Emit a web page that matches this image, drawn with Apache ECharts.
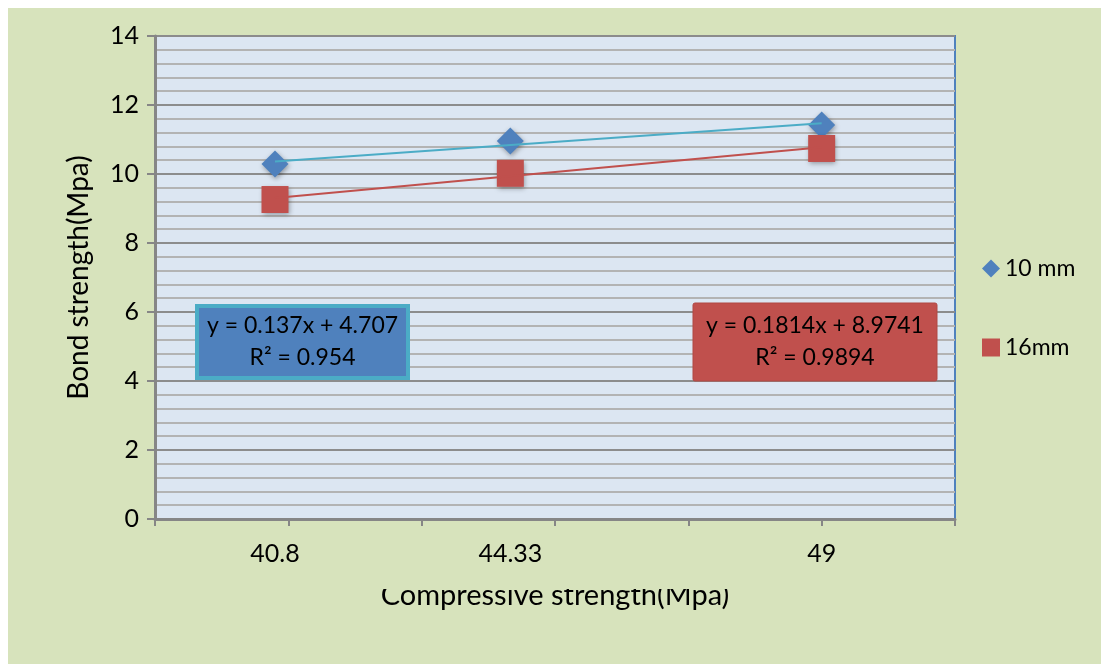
<!DOCTYPE html>
<html>
<head>
<meta charset="utf-8">
<script src="https://cdn.jsdelivr.net/npm/echarts@6/dist/echarts.min.js"></script>
<style>
  html, body { margin: 0; padding: 0; background: #ffffff; }
  #chart { width: 1101px; height: 664px; }
</style>
</head>
<body>
<div id="chart"></div>
<script>
// Compressive strength of the mixes (x) and measured bond strength per bar size (y)
const compressive = [40.8, 44.33, 49];
const bond10mm = [10.29, 10.96, 11.42];
const bond16mm = [9.26, 10.02, 10.74];
const seriesNames = ['10 mm', '16mm'];
const equation10mm = ['y = 0.137x + 4.707', 'R² = 0.954'];
const equation16mm = ['y = 0.1814x + 8.9741', 'R² = 0.9894'];
const xTickValues = [39, 41, 43, 45, 47, 49, 51];
const xLabelValues = [40.8, 44.33, 49];
const yAxisName = 'Bond strength(Mpa)';
const xAxisName = 'Compressive strength(Mpa)';

// least-squares straight line through the points, returned as its two end points
function trendEnds(xs, ys) {
  const n = xs.length;
  const mx = xs.reduce((a, b) => a + b, 0) / n;
  const my = ys.reduce((a, b) => a + b, 0) / n;
  let sxy = 0, sxx = 0;
  for (let i = 0; i < n; i++) {
    sxy += (xs[i] - mx) * (ys[i] - my);
    sxx += (xs[i] - mx) * (xs[i] - mx);
  }
  const k = sxy / sxx, b = my - k * mx;
  const x0 = Math.min(...xs), x1 = Math.max(...xs);
  return [[x0, k * x0 + b], [x1, k * x1 + b]];
}

const FONT = 'Lato';
const BG = '#d7e3bc';
const chart = echarts.init(document.getElementById('chart'), null, { renderer: 'canvas' });

const markerShadow = { shadowBlur: 5, shadowColor: 'rgba(0,0,0,0.35)', shadowOffsetY: 2, shadowOffsetX: 1 };

chart.setOption({
  animation: false,
  backgroundColor: '#ffffff',
  textStyle: { fontFamily: FONT, color: '#000' },
  grid: {
    left: 155, right: 146, top: 36, bottom: 145,
    show: true, backgroundColor: '#dce6f2', borderColor: '#4f81bd', borderWidth: 2
  },
  legend: {
    data: [
      { name: seriesNames[0], icon: 'diamond' },
      { name: seriesNames[1], icon: 'rect' }
    ],
    orient: 'vertical', left: 977, top: 252, itemGap: 56,
    itemWidth: 18, itemHeight: 18,
    textStyle: { fontFamily: FONT, fontSize: 23, color: '#000' }
  },
  xAxis: {
    type: 'value', min: 39, max: 51,
    name: xAxisName, nameLocation: 'middle', nameGap: 62,
    nameTextStyle: { fontFamily: FONT, fontSize: 29, color: '#000' },
    axisLine: { lineStyle: { color: '#868686', width: 3 } },
    axisTick: { show: true, customValues: xTickValues, length: 7, inside: false, lineStyle: { color: '#868686', width: 2 } },
    axisLabel: {
      customValues: xLabelValues, margin: 22, fontSize: 25, color: '#000', fontFamily: FONT,
      formatter: v => String(v)
    },
    splitLine: { show: false }
  },
  yAxis: {
    type: 'value', min: 0, max: 14, interval: 2,
    name: yAxisName, nameLocation: 'middle', nameGap: 62, nameRotate: 90,
    nameTextStyle: { fontFamily: FONT, fontSize: 28, color: '#000' },
    axisLine: { show: true, lineStyle: { color: '#868686', width: 3 } },
    axisTick: { show: true, length: 8, lineStyle: { color: '#868686', width: 2 } },
    axisLabel: { margin: 16, fontSize: 25, color: '#000', fontFamily: FONT },
    splitLine: { lineStyle: { color: '#8c8c8c', width: 2 } },
    minorTick: { show: false, splitNumber: 5 },
    minorSplitLine: { show: true, lineStyle: { color: '#b3b3b3', width: 2 } }
  },
  series: [
    {
      name: seriesNames[0] + ' trend', type: 'line', data: trendEnds(compressive, bond10mm),
      showSymbol: false, lineStyle: { color: '#4bacc6', width: 2 }, z: 3, silent: true
    },
    {
      name: seriesNames[1] + ' trend', type: 'line', data: trendEnds(compressive, bond16mm),
      showSymbol: false, lineStyle: { color: '#c0504d', width: 2 }, z: 3, silent: true
    },
    {
      name: seriesNames[0], type: 'scatter', symbol: 'diamond', symbolSize: 27,
      data: compressive.map((x, i) => [x, bond10mm[i]]),
      itemStyle: Object.assign({ color: '#4f81bd', opacity: 1 }, markerShadow), z: 2
    },
    {
      name: seriesNames[1], type: 'scatter', symbol: 'rect', symbolSize: 27,
      data: compressive.map((x, i) => [x, bond16mm[i]]),
      itemStyle: Object.assign({ color: '#c0504d', opacity: 1 }, markerShadow), z: 2
    }
  ],
  graphic: [
    // chart area fill behind everything
    { type: 'rect', z: -100, silent: true, shape: { x: 8, y: 8, width: 1101, height: 664 }, style: { fill: BG } },
    // band below the tick labels that trims the top of the x title
    { type: 'rect', z: 100, silent: true, shape: { x: 340, y: 562, width: 420, height: 27 }, style: { fill: BG } },
    // regression equation boxes
    { type: 'rect', z: 50, silent: true, shape: { x: 197, y: 306, width: 211, height: 72 }, style: { fill: '#4f81bd', stroke: '#4bacc6', lineWidth: 4 } },
    { type: 'text', z: 51, silent: true, x: 302.5, y: 342, style: { text: equation10mm.join('\n'), fill: '#000', font: '23px ' + FONT, align: 'center', verticalAlign: 'middle', lineHeight: 32 } },
    { type: 'rect', z: 50, silent: true, shape: { x: 693, y: 303, width: 244, height: 78, r: 2 }, style: { fill: '#c0504d', stroke: '#b04845', lineWidth: 1 } },
    { type: 'text', z: 51, silent: true, x: 815, y: 342, style: { text: equation16mm.join('\n'), fill: '#000', font: '23px ' + FONT, align: 'center', verticalAlign: 'middle', lineHeight: 32 } }
  ]
});
</script>
</body>
</html>
